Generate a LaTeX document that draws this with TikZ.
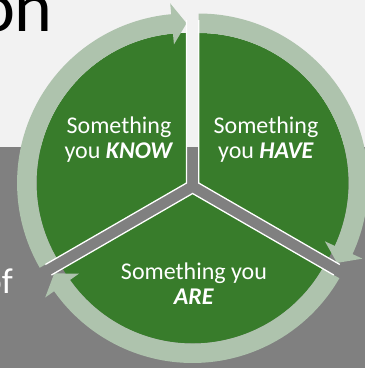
\documentclass[tikz,border=0pt]{standalone}
\usepackage{fontspec}
\setmainfont{Carlito}
\usepackage{tikz}
\usetikzlibrary{positioning, calc}

\definecolor{leafgreen}{HTML}{387C2B}
\definecolor{ringgreen}{HTML}{AEC3AD}
\definecolor{paper}{HTML}{F2F2F2}
\definecolor{slate}{HTML}{808080}

\begin{document}
\begin{tikzpicture}[
    x=1pt, y=1pt,
    sector/.style={
        fill=leafgreen
    },
    ring/.style={
        fill=ringgreen
    },
    cut/.style={
        draw=white,
        line width=1.3pt
    },
    slicetext/.style={
        align=center,
        text=white,
        inner sep=0pt,
        font=\fontsize{24}{25}\selectfont
    },
    titletext/.style={
        anchor=base east,
        inner sep=0pt,
        font=\fontsize{72}{72}\selectfont
    },
    bodytext/.style={
        anchor=base east,
        inner sep=0pt,
        text=white,
        font=\fontsize{36}{36}\selectfont
    }
]

% =============== FUNDO ===============
\useasboundingbox (0,0) rectangle (365,368);
\clip (0,0) rectangle (365,368);
\fill[paper] (0,0) rectangle (365,368);
\fill[slate] (0,0) rectangle (365,220.7);

% restos do texto do slide
\node[titletext] (title_tail) at (53,336.3) {on};
\node[bodytext] (body_tail) at (13,74.7) {of};

% =============== SETORES ===============

% vértices dos setores (afastados do centro)
\coordinate (apex_know) at (186.54,185);
\coordinate (apex_have) at (198.66,185);
\coordinate (apex_are)  at (192.6,174.5);

\fill[sector] (apex_know) -- ++(90:150) arc[start angle=90, end angle=210, radius=150] -- cycle;
\fill[sector] (apex_have) -- ++(-30:150) arc[start angle=-30, end angle=90, radius=150] -- cycle;
\fill[sector] (apex_are) -- ++(210:150) arc[start angle=210, end angle=330, radius=150] -- cycle;

% =============== SETAS DO ANEL ===============

\begin{scope}[shift={(apex_know)}]
    \fill[ring] (210:150) -- (210:169.5) arc[start angle=210, end angle=95.2, radius=169.5]
        -- (95.2:180.4) -- (90:159.75) -- (95.2:139.1) -- (95.2:150)
        arc[start angle=95.2, end angle=210, radius=150] -- cycle;
\end{scope}

\begin{scope}[shift={(apex_have)}]
    \fill[ring] (90:150) -- (90:169.5) arc[start angle=90, end angle=-24.8, radius=169.5]
        -- (-24.8:180.4) -- (-30:159.75) -- (-24.8:139.1) -- (-24.8:150)
        arc[start angle=-24.8, end angle=90, radius=150] -- cycle;
\end{scope}

\begin{scope}[shift={(apex_are)}]
    \fill[ring] (330:150) -- (330:169.5) arc[start angle=330, end angle=215.2, radius=169.5]
        -- (215.2:180.4) -- (210:159.75) -- (215.2:139.1) -- (215.2:150)
        arc[start angle=215.2, end angle=330, radius=150] -- cycle;
\end{scope}

% bordas brancas dos cortes
\draw[cut] ($(apex_know)+(90:163)$) -- (apex_know) -- ++(210:163);
\draw[cut] ($(apex_have)+(90:163)$) -- (apex_have) -- ++(-30:163);
\draw[cut] ($(apex_are)+(210:163)$) -- (apex_are) -- ++(330:163);

% =============== TEXTOS ===============
\node[slicetext] (txt_know) at (119,228.5) {Something\\you \textbf{\textit{KNOW}}};
\node[slicetext] (txt_have) at (266,228.5) {Something\\you \textbf{\textit{HAVE}}};
\node[slicetext] (txt_are)  at (194,84)    {Something you\\\textbf{\textit{ARE}}};

\end{tikzpicture}
\end{document}
